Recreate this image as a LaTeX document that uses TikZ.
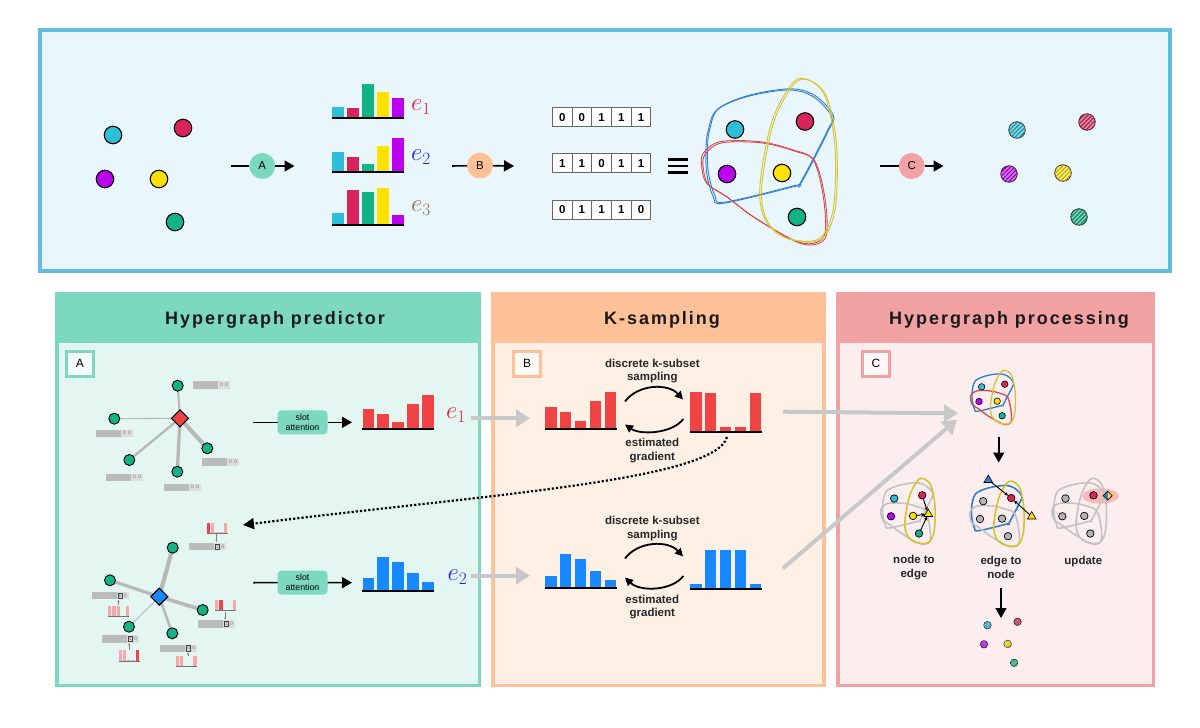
\documentclass[tikz,border=0pt]{standalone}
\usepackage{fontspec}
\setmainfont{Liberation Sans}
\newfontfamily\hdrfont[LetterSpace=11]{Liberation Sans}
\usetikzlibrary{arrows.meta,patterns.meta,shapes.geometric,calc}

\definecolor{topB}{HTML}{62BDE0}
\definecolor{topF}{HTML}{E9F6FC}
\definecolor{cyanN}{HTML}{2CBFD9}
\definecolor{redN}{HTML}{D8245A}
\definecolor{purpleN}{HTML}{BA00EE}
\definecolor{yellowN}{HTML}{FFE100}
\definecolor{greenN}{HTML}{12B386}
\definecolor{aHead}{HTML}{7DD8C0}
\definecolor{aIn}{HTML}{E3F6F1}
\definecolor{bHead}{HTML}{FFC197}
\definecolor{bIn}{HTML}{FFF0E6}
\definecolor{cHead}{HTML}{F2A2A2}
\definecolor{cIn}{HTML}{FCEEEE}
\definecolor{barR}{HTML}{F04343}
\definecolor{barB}{HTML}{1888FF}
\definecolor{heB}{HTML}{2F7DD3}
\definecolor{heR}{HTML}{D54A50}
\definecolor{heY}{HTML}{D6C42E}
\definecolor{heG}{HTML}{C2C2C2}
\definecolor{arrG}{HTML}{C8C8C8}
\definecolor{fDark}{HTML}{BBBBBB}
\definecolor{fLight}{HTML}{DDDDDD}
\definecolor{pinkB}{HTML}{F5A7AA}
\definecolor{eRed}{HTML}{E0203C}
\definecolor{eBlue}{HTML}{2424E0}
\definecolor{eOlive}{HTML}{8C7434}
\definecolor{nodeGray}{HTML}{B5B5B5}
\definecolor{haloP}{HTML}{F7B9B9}
\definecolor{edgeG}{HTML}{B8B8B8}

\newcommand{\HEblue}[1]{\draw[#1] plot[smooth cycle, tension=0.55] coordinates {(708.3,130) (716.7,110) (746.7,96.7) (788.3,90) (813.3,96.7) (831.7,116.7) (826.7,132) (800,183.3) (793.3,186.7) (723.3,203.3) (713.3,196.7) (706.7,173.3) (706,146.7)};}
\newcommand{\HEred}[1]{\draw[#1] plot[smooth cycle, tension=0.55] coordinates {(703.3,153.3) (720,141.7) (760,141.7) (793.3,150) (813.3,160) (823.3,196.7) (825,233.3) (813.3,243.3) (793.3,240) (753.3,216.7) (726.7,196.7) (706.7,183.3) (701.7,166.7)};}
\newcommand{\HEyel}[1]{\draw[#1] plot[smooth cycle, tension=0.55] coordinates {(808.3,80) (793.3,85) (773.3,123.3) (761.7,186.7) (766.7,220) (786.7,238.3) (820,240) (835,210) (836.7,146.7) (826.7,96.7)};}

\newcommand{\procgraph}[7]{%
  \begin{scope}[shift={(#2,#3)},scale=#4]
    \HEblue{#5}\HEred{#6}\HEyel{#7}
    \coordinate (#1-c) at (735,129.5);
    \coordinate (#1-r) at (805,121.5);
    \coordinate (#1-p) at (727,174);
    \coordinate (#1-y) at (782,173);
    \coordinate (#1-g) at (797,217);
  \end{scope}}

\newcommand{\barset}[5]{%
  \foreach \h/\c [count=\i from 0] in {#5} {\fill[\c] ({#1+\i*(#3+#4)},#2) rectangle ++(#3,-\h);}}

\newcommand{\featA}[2]{%
  \fill[fDark] (#1,#2) rectangle ++(25,7.5);
  \fill[fLight] ({#1+25},#2) rectangle ++(12,7.5);
  \node[ft] at ({#1+28.5},{#2+3.75}) {0};
  \node[ft] at ({#1+33.5},{#2+3.75}) {0};}
\newcommand{\featB}[3]{%
  \fill[fDark] (#1,#2) rectangle ++(25,7.5);
  \fill[fLight] ({#1+25},#2) rectangle ++(12,7.5);
  \node[ft, draw=black!75, line width=0.5pt, inner sep=0.8pt, fill=fLight] at ({#1+28.5},{#2+3.75}) {#3};
  \node[ft] at ({#1+33.8},{#2+3.75}) {0};}
\newcommand{\minihist}[3]{%
  \foreach \h/\c [count=\i from 0] in {#3} {\fill[\c] ({#1+\i*4.4},#2) rectangle ++(3.3,-\h);}
  \draw[black!55, line width=0.8pt] (#1,#2) -- ++(21.3,0);}

\begin{document}
\begin{tikzpicture}[x=1pt,y=-1pt,
  every node/.style={inner sep=0pt, outer sep=0pt},
  ln/.style={line width=1.6pt, black},
  endtri/.style={-{Triangle[length=10pt,width=11pt]}},
  nd/.style={circle, draw=black, line width=1.1pt, minimum size=17.5pt},
  gn/.style={circle, draw=black, line width=0.9pt, fill=greenN, minimum size=11pt},
  sn/.style={circle, draw=black, line width=0.7pt, minimum size=7.5pt},
  tn/.style={circle, draw=black, line width=0.6pt, minimum size=6.5pt},
  dia/.style={diamond, draw=black, line width=1.1pt, minimum size=17pt},
  stepc/.style={circle, minimum size=26pt, font=\fontsize{11.5}{11.5}\selectfont},
  cell/.style={draw=black!60, line width=0.8pt, fill=white, minimum width=19.7pt, minimum height=19pt, font=\bfseries\fontsize{11.5}{11.5}\selectfont},
  hatch/.style 2 args={circle, draw=black!85, line width=0.8pt, fill=#1!55!white, minimum size=#2,
     postaction={pattern={Lines[angle=45,distance=3pt,line width=1.1pt]}, pattern color=#1!75!black}},
  hatchs/.style 2 args={circle, draw=black!85, line width=0.6pt, fill=#1!55!white, minimum size=#2,
     postaction={pattern={Lines[angle=45,distance=1.8pt,line width=0.7pt]}, pattern color=#1!75!black}},
  hdr/.style={font=\hdrfont\bfseries\fontsize{18}{20}\selectfont, text=black!90},
  lbl/.style={draw, line width=3pt, minimum width=27pt, minimum height=25pt, font=\fontsize{12}{12}\selectfont},
  ptxt/.style={font=\bfseries\fontsize{11.5}{13.7}\selectfont, align=center, text=black!85},
  slot/.style={rounded corners=4pt, fill=aHead, minimum width=50pt, minimum height=24pt, align=center, font=\fontsize{8.8}{10}\selectfont},
  ft/.style={font=\fontsize{5}{5}\selectfont, text=black!55},
  garr/.style={draw=arrG, line width=4pt, -{Triangle[length=14pt,width=17pt]}},
  elab/.style={font=\fontsize{24}{28}\selectfont},
  hist/.style={draw=black!50, line width=0.4pt, -{Stealth[length=2.2pt,width=2pt]}}
]
\useasboundingbox (0,0) rectangle (1200,728);
\fill[white] (0,0) rectangle (1200,728);

% ================= TOP PANEL =================
\draw[topB, line width=4pt, fill=topF] (40,30) rectangle (1170,271);

% input nodes
\node[nd, fill=cyanN]   (i1) at (113,135) {};
\node[nd, fill=redN]    (i2) at (183,128) {};
\node[nd, fill=purpleN] (i3) at (105,179) {};
\node[nd, fill=yellowN] (i4) at (159,179) {};
\node[nd, fill=greenN]  (i5) at (175,222) {};

% step A
\node[stepc, fill=aHead] (cA) at (262.3,166) {A};
\coordinate (aS) at (231,166); \coordinate (aE) at (294.5,166);
\draw[ln] (aS) -- (cA);
\draw[ln, endtri] (cA) -- (aE);

% bars e1 e2 e3
\barset{332}{117.7}{11.5}{3.5}{11/cyanN, 9.7/redN, 33.7/greenN, 25.7/yellowN, 19.7/purpleN}
\draw[line width=2pt] (332,117.7) -- (403.5,117.7);
\barset{332}{171.7}{11.5}{3.5}{20/cyanN, 15/redN, 7.4/greenN, 25.4/yellowN, 33.7/purpleN}
\draw[line width=2pt] (332,171.7) -- (403.5,171.7);
\barset{332}{225}{11.5}{3.5}{12.3/cyanN, 35.3/redN, 33.3/greenN, 37.3/yellowN, 10/purpleN}
\draw[line width=2pt] (332,225) -- (403.5,225);
\node[elab, text=eRed]   (te1) at (421,107.5) {$e_1$};
\node[elab, text=eBlue]  (te2) at (421,157) {$e_2$};
\node[elab, text=eOlive] (te3) at (421,208.5) {$e_3$};

% step B
\node[stepc, fill=bHead] (cB) at (480,165.5) {B};
\coordinate (bS) at (452,166); \coordinate (bE) at (514,166);
\draw[ln] (bS) -- (cB);
\draw[ln, endtri] (cB) -- (bE);

% binary vectors
\foreach \d [count=\i from 0] in {0,0,1,1,1} {\node[cell] (v1-\i) at ({562.2+\i*19.7},117.2) {\d};}
\foreach \d [count=\i from 0] in {1,1,0,1,1} {\node[cell] (v2-\i) at ({562.2+\i*19.7},163.2) {\d};}
\foreach \d [count=\i from 0] in {0,1,1,1,0} {\node[cell] (v3-\i) at ({562.2+\i*19.7},209.5) {\d};}

% equivalence sign
\draw[line width=2.8pt] (668,159.5) -- (688,159.5);
\draw[line width=2.8pt] (668,166) -- (688,166);
\draw[line width=2.8pt] (668,172.5) -- (688,172.5);

% hypergraph
\HEblue{heB, line width=0.9pt}
\HEblue{heB, line width=0.9pt, xshift=1.6pt, yshift=1.2pt}
\HEred{heR, line width=0.9pt}
\HEred{heR, line width=0.9pt, xshift=1.6pt, yshift=-1.2pt}
\HEyel{heY, line width=0.9pt}
\HEyel{heY, line width=0.9pt, xshift=-1.8pt, yshift=0.8pt}
\node[nd, fill=cyanN]   (g1) at (735,129.5) {};
\node[nd, fill=redN]    (g2) at (805,121.5) {};
\node[nd, fill=purpleN] (g3) at (727,174) {};
\node[nd, fill=yellowN] (g4) at (782,173) {};
\node[nd, fill=greenN]  (g5) at (797,217) {};

% step C
\node[stepc, fill=cHead] (cC) at (911.7,166) {C};
\coordinate (cS) at (880,166); \coordinate (cE) at (943.5,166);
\draw[ln] (cS) -- (cC);
\draw[ln, endtri] (cC) -- (cE);

% output hatched nodes
\node[hatch={cyanN}{16.5pt}]   (o1) at (1017,130) {};
\node[hatch={redN}{16.5pt}]    (o2) at (1087,122) {};
\node[hatch={purpleN}{16.5pt}] (o3) at (1009,174) {};
\node[hatch={yellowN}{16.5pt}] (o4) at (1063,173) {};
\node[hatch={greenN}{16.5pt}]  (o5) at (1079,217) {};

% ================= BOTTOM PANELS =================
\fill[aHead] (55,292) rectangle (481,687);
\fill[aIn] (58.5,343) rectangle (477.5,683.5);
\fill[bHead] (491,292) rectangle (825.5,687);
\fill[bIn] (494.5,343) rectangle (822,683.5);
\fill[cHead] (836,292) rectangle (1155,687);
\fill[cIn] (839.5,343) rectangle (1151.5,683.5);

\node[hdr] (hA) at (275,320) {Hypergraph predictor};
\node[hdr] (hB) at (662,320) {K-sampling};
\node[hdr] (hC) at (1009,320) {Hypergraph processing};

\node[lbl, draw=aHead, fill=aIn!40!white] (LA) at (80,363.5) {A};
\node[lbl, draw=bHead, fill=bIn!40!white] (LB) at (527.2,363.5) {B};
\node[lbl, draw=cHead, fill=cIn!40!white] (LC) at (876,363.5) {C};

% ---------- Panel A : upper graph ----------
\coordinate (d1) at (180,418.3);
\coordinate (u1) at (177.7,385.7);
\coordinate (u2) at (114.3,418.7);
\coordinate (u3) at (129.3,460);
\coordinate (u4) at (177.3,471.7);
\coordinate (u5) at (207.3,448.3);
\draw[edgeG, line width=2pt] (d1) -- (u1);
\draw[edgeG, line width=1.1pt] (d1) -- (u2);
\draw[edgeG, line width=2.3pt] (d1) -- (u3);
\draw[edgeG, line width=3.3pt] (d1) -- (u4);
\draw[edgeG, line width=4.2pt] (d1) -- (u5);
\node[dia, fill=barR] (D1) at (d1) {};
\node[gn] (U1) at (u1) {};
\node[gn] (U2) at (u2) {};
\node[gn] (U3) at (u3) {};
\node[gn] (U4) at (u4) {};
\node[gn] (U5) at (u5) {};
\featA{193}{381}
\featA{96}{429.5}
\featA{106}{473.5}
\featA{164}{483.5}
\featA{202}{458}

% slot attention 1
\node[slot] (sa1) at (302.5,422.3) {slot\\attention};
\coordinate (s1S) at (253.3,422.3); \coordinate (s1E) at (352,422.3);
\draw[ln] (s1S) -- (sa1);
\draw[ln, endtri] (sa1) -- (s1E);
\barset{362.5}{429.3}{11.5}{3.4}{20/barR, 15/barR, 7/barR, 25.3/barR, 34/barR}
\draw[line width=2pt] (362,429.3) -- (433.6,429.3);
\node[elab, text=eRed] (be1) at (456,415.5) {$e_1$};

% ---------- Panel A : lower graph ----------
\coordinate (d2) at (159.3,596.7);
\coordinate (w1) at (172.7,547.7);
\coordinate (w2) at (110,580.3);
\coordinate (w3) at (129,626.7);
\coordinate (w4) at (172.3,633.3);
\coordinate (w5) at (202.7,610);
\draw[edgeG, line width=4.2pt] (d2) -- (w1);
\draw[edgeG, line width=3.2pt] (d2) -- (w2);
\draw[edgeG, line width=0.9pt] (d2) -- (w3);
\draw[edgeG, line width=2.5pt] (d2) -- (w4);
\draw[edgeG, line width=3.6pt] (d2) -- (w5);
\node[dia, fill=barB] (D2) at (d2) {};
\node[gn] (W1) at (w1) {};
\node[gn] (W2) at (w2) {};
\node[gn] (W3) at (w3) {};
\node[gn] (W4) at (w4) {};
\node[gn] (W5) at (w5) {};
\featB{189}{542.7}{1}
\featB{91.7}{591.7}{0}
\featB{101.7}{635}{1}
\featB{160}{644.5}{0}
\featB{197.7}{620}{1}
% mini histograms
\minihist{206.5}{533.3}{10.6/barR, 10.6/pinkB, 1/pinkB, 1/pinkB, 10.6/pinkB}
\minihist{108}{616.7}{11/pinkB, 11/pinkB, 11/pinkB, 1/pinkB, 11/pinkB}
\minihist{118.5}{661}{11/pinkB, 11/pinkB, 1/pinkB, 1/pinkB, 11/barR}
\minihist{175.7}{666.7}{11/pinkB, 11/pinkB, 1/pinkB, 1/black!60, 11/pinkB}
\minihist{215}{610.7}{11/pinkB, 11/barR, 1/pinkB, 1/pinkB, 11/pinkB}
\coordinate (mh1a) at (216.5,534.3); \coordinate (mh1b) at (216.5,542);
\coordinate (mh2a) at (118.5,605); \coordinate (mh2b) at (118.5,599.7);
\coordinate (mh3a) at (129,650); \coordinate (mh3b) at (129,643);
\coordinate (mh4a) at (188,655.5); \coordinate (mh4b) at (188,652.5);
\coordinate (mh5a) at (225,611.5); \coordinate (mh5b) at (225,619.5);
\draw[hist] (mh1a) -- (mh1b);
\draw[hist] (mh2a) -- (mh2b);
\draw[hist] (mh3a) -- (mh3b);
\draw[hist] (mh4a) -- (mh4b);
\draw[hist] (mh5a) -- (mh5b);

% slot attention 2
\node[slot] (sa2) at (302.5,582.5) {slot\\attention};
\coordinate (s2S) at (253.3,582.7); \coordinate (s2E) at (352,582.7);
\draw[ln] (s2S) -- (sa2);
\draw[ln, endtri] (sa2) -- (s2E);
\barset{362.5}{591}{11.5}{3.4}{13.3/barB, 34.3/barB, 29.3/barB, 17.7/barB, 8.7/barB}
\draw[line width=2pt] (362,591) -- (433.6,591);
\node[elab, text=eBlue] (be2) at (457.5,577) {$e_2$};

% gray arrows A -> B
\coordinate (ga1s) at (471,418.3); \coordinate (ga1e) at (530,418.3);
\coordinate (ga2s) at (471,575.7); \coordinate (ga2e) at (530,575.7);
\draw[garr] (ga1s) -- (ga1e);
\draw[garr] (ga2s) -- (ga2e);

% ---------- Panel B ----------
\barset{545}{428.7}{11.5}{3.4}{22/barR, 16.4/barR, 7.7/barR, 27.7/barR, 37/barR}
\draw[line width=2pt] (545,428.7) -- (616.5,428.7);
\barset{690}{431.7}{11.5}{3.4}{39.7/barR, 38.7/barR, 4.4/barR, 4.4/barR, 38.4/barR}
\draw[line width=2pt] (690,431.7) -- (761.5,431.7);
\node[ptxt] (tb1) at (652.3,371) {discrete k-subset\\sampling};
\node[ptxt] (tb2) at (652.3,450.3) {estimated\\gradient};
\coordinate (ar1a) at (625,401.5); \coordinate (ar1b) at (683,399.5);
\coordinate (ar2a) at (683.3,419); \coordinate (ar2b) at (625,424.5);
\draw[line width=1.8pt, -{Triangle[length=8pt,width=8pt]}] (ar1a) .. controls (638,384) and (668,383) .. (ar1b);
\draw[line width=1.8pt, -{Triangle[length=8pt,width=8pt]}] (ar2a) .. controls (672,434) and (640,435) .. (ar2b);

\barset{545}{588.3}{11.5}{3.4}{12.6/barB, 34/barB, 29/barB, 17.3/barB, 8.3/barB}
\draw[line width=2pt] (545,588.3) -- (616.5,588.3);
\barset{690}{589.3}{11.5}{3.4}{5/barB, 39.3/barB, 39.3/barB, 39.3/barB, 5/barB}
\draw[line width=2pt] (690,589.3) -- (761.5,589.3);
\node[ptxt] (tb3) at (652.3,528.5) {discrete k-subset\\sampling};
\node[ptxt] (tb4) at (652.3,607) {estimated\\gradient};
\coordinate (ar3a) at (625,558.5); \coordinate (ar3b) at (683,556.5);
\coordinate (ar4a) at (683.3,576); \coordinate (ar4b) at (625,577.5);
\draw[line width=1.8pt, -{Triangle[length=8pt,width=8pt]}] (ar3a) .. controls (638,541) and (668,540) .. (ar3b);
\draw[line width=1.8pt, -{Triangle[length=8pt,width=8pt]}] (ar4a) .. controls (672,591) and (640,592) .. (ar4b);

% dotted feedback arrow
\coordinate (dS) at (727,437); \coordinate (dE) at (243,525);
\draw[line width=2.2pt, dash pattern=on 2.2pt off 2pt, -{Triangle[length=11pt,width=11pt]}] (dS) .. controls (715,481) and (480,495) .. (dE);

% gray arrows B -> C
\coordinate (gb1s) at (783,411.7); \coordinate (gb1e) at (958,413.3);
\coordinate (gb2s) at (783,568.3); \coordinate (gb2e) at (957,419.5);
\draw[garr] (gb1s) -- (gb1e);
\draw[garr] (gb2s) -- (gb2e);

% ---------- Panel C ----------
\procgraph{mini}{739.1}{344.1}{0.33}{heB, line width=1.3pt}{heR, line width=1.3pt}{heY, line width=1.3pt}
\node[tn, fill=cyanN]   (M1) at (mini-c) {};
\node[tn, fill=redN]    (M2) at (mini-r) {};
\node[tn, fill=purpleN] (M3) at (mini-p) {};
\node[tn, fill=yellowN] (M4) at (mini-y) {};
\node[tn, fill=greenN]  (M5) at (mini-g) {};

\coordinate (dn1s) at (998.7,436.5); \coordinate (dn1e) at (998.7,462.5);
\draw[ln, endtri] (dn1s) -- (dn1e);

% node to edge
\procgraph{nte}{600.2}{446.7}{0.4}{heG, line width=1.6pt}{heG, line width=1.6pt}{heY, line width=1.6pt}
\node[sn, fill=cyanN]   (N1) at (nte-c) {};
\node[sn, fill=redN]    (N2) at (nte-r) {};
\node[sn, fill=purpleN] (N3) at (nte-p) {};
\node[sn, fill=yellowN] (N4) at (nte-y) {};
\node[sn, fill=greenN]  (N5) at (nte-g) {};
\node[regular polygon, regular polygon sides=3, draw=black, line width=0.6pt, fill=yellowN, minimum size=10pt] (T1) at (928.3,514) {};
\draw[line width=0.9pt, -{Stealth[length=4pt,width=3.5pt]}] (N2) -- (T1);
\draw[line width=0.9pt, -{Stealth[length=4pt,width=3.5pt]}] (N4) -- (T1);
\draw[line width=0.9pt, -{Stealth[length=4pt,width=3.5pt]}] (N5) -- (T1);

% edge to node
\procgraph{etn}{689.2}{449.4}{0.4}{heB, line width=1.6pt}{heG, line width=1.6pt}{heY, line width=1.6pt}
\node[sn, fill=nodeGray] (E1) at (etn-c) {};
\node[sn, fill=redN]     (E2) at (etn-r) {};
\node[sn, fill=nodeGray] (E3) at (etn-p) {};
\node[sn, fill=nodeGray] (E4) at (etn-y) {};
\node[sn, fill=nodeGray] (E5) at (etn-g) {};
\node[regular polygon, regular polygon sides=3, draw=black, line width=0.6pt, fill=heB, minimum size=10pt] (T2) at (988.3,480) {};
\node[regular polygon, regular polygon sides=3, draw=black, line width=0.6pt, fill=yellowN, minimum size=10pt] (T3) at (1031.7,516.5) {};
\draw[line width=0.9pt, -{Stealth[length=4pt,width=3.5pt]}] (T2) -- (E2);
\draw[line width=0.9pt, -{Stealth[length=4pt,width=3.5pt]}] (T3) -- (E2);

% update
\node[ellipse, fill=haloP, minimum width=37pt, minimum height=15pt] (halo) at (1100.5,496) {};
\procgraph{upd}{771.5}{446.7}{0.4}{heG, line width=1.6pt}{heG, line width=1.6pt}{heG, line width=1.6pt}
\node[sn, fill=nodeGray] (P1) at (upd-c) {};
\node[sn, fill=redN]     (P2) at (upd-r) {};
\node[sn, fill=nodeGray] (P3) at (upd-p) {};
\node[sn, fill=nodeGray] (P4) at (upd-y) {};
\node[sn, fill=nodeGray] (P5) at (upd-g) {};
\node[diamond, draw=black, line width=0.6pt, fill=yellowN, minimum size=9pt,
  path picture={\fill[heB] (path picture bounding box.north west) rectangle (path picture bounding box.south);}] (Q1) at (1107.7,495.7) {};

\node[ptxt] (lnte) at (914,567.5) {node to\\edge};
\node[ptxt] (letn) at (1001,567.5) {edge to\\node};
\node[ptxt, anchor=base] (lupd) at (1083.3,564.7) {update};

\coordinate (dn2s) at (1001,587.5); \coordinate (dn2e) at (1001,618);
\draw[ln, endtri] (dn2s) -- (dn2e);

% final hatched nodes
\begin{scope}[shift={(671.4,569.5)},scale=0.43]
  \coordinate (f1) at (735,129.5);
  \coordinate (f2) at (805,121.5);
  \coordinate (f3) at (727,174);
  \coordinate (f4) at (782,173);
  \coordinate (f5) at (797,217);
\end{scope}
\node[hatchs={cyanN}{7.5pt}]   (F1) at (f1) {};
\node[hatchs={redN}{7.5pt}]    (F2) at (f2) {};
\node[hatchs={purpleN}{7.5pt}] (F3) at (f3) {};
\node[hatchs={yellowN}{7.5pt}] (F4) at (f4) {};
\node[hatchs={greenN}{7.5pt}]  (F5) at (f5) {};

\end{tikzpicture}
\end{document}
